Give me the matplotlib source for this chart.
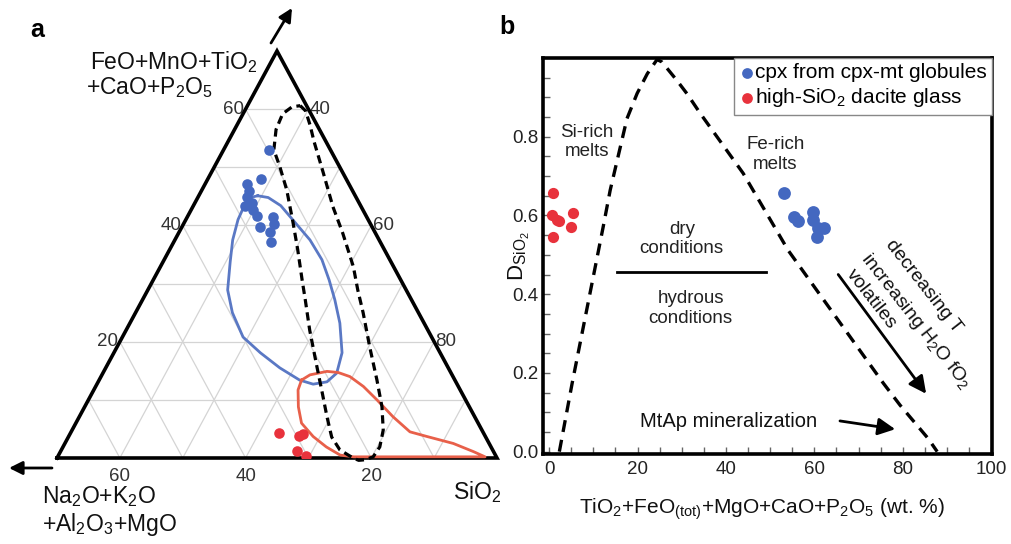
import matplotlib
matplotlib.use("Agg")
import matplotlib.pyplot as plt
import numpy as np

plt.rcParams["font.family"] = ["Liberation Sans", "DejaVu Sans"]
plt.rcParams["mathtext.fontset"] = "custom"
plt.rcParams["mathtext.rm"] = "Liberation Sans"
plt.rcParams["mathtext.it"] = "Liberation Sans:italic"
plt.rcParams["mathtext.bf"] = "Liberation Sans:bold"

BLUE = "#4468c0"; RED = "#e8323c"
BLUE_LINE = "#5a78c4"; RED_LINE = "#e8604a"

# ---- panel a: ternary (FeO group = top, alkali group = left, SiO2 = right), wt.% ----
# stored as top-apex % and SiO2 %; the alkali/Al/Mg group is the remainder
cpx_fe = [53.0, 47.9, 47.2, 46.0, 44.9, 43.4, 43.9, 42.7, 41.6, 39.8, 41.5, 40.3, 38.9, 37.2]
cpx_si = [37.2, 38.5, 36.6, 37.5, 37.8, 38.2, 39.1, 39.8, 41.0, 42.4, 43.6, 44.4, 44.4, 45.4]
gl_fe = [4.3, 3.8, 4.1, 1.2, 0.3]
gl_si = [63.2, 66.6, 67.1, 67.6, 69.5]

blue_fe = [45.1, 44.8, 43.4, 40.6, 37.5, 34.1, 30.6, 27.2, 23.2, 18.1, 14.6, 13.1, 12.7,
           13.4, 15.5, 18.1, 20.8, 25.0, 28.9, 33.7, 37.5, 41.0, 43.4, 44.8]
blue_si = [39.4, 41.2, 43.9, 47.5, 51.5, 55.1, 58.0, 60.6, 63.4, 66.3, 67.2, 66.4, 64.4,
           61.9, 57.7, 53.3, 49.2, 45.4, 42.7, 40.7, 39.2, 38.3, 38.1, 38.3]
red_fe = [13.4, 14.3, 14.9, 14.7, 14.0, 12.3, 10.0, 7.1, 4.5, 3.7, 2.5, 1.1, 0.2,
          0.2, 0.5, 1.9, 3.7, 6.0, 8.8, 11.7]
red_si = [62.2, 63.1, 65.5, 67.4, 69.6, 72.6, 75.9, 79.9, 83.9, 87.0, 91.8, 95.7, 98.0,
          77.1, 74.8, 71.9, 68.9, 65.9, 64.0, 62.5]
dash_fe = [60.6, 59.7, 57.3, 54.4, 49.1, 43.2, 38.7, 32.9, 28.9, 25.0, 19.1, 13.4, 8.8, 4.8,
           1.9, 0.2, -0.3, -0.4, 0.0, 1.4, 3.6, 7.1, 11.2, 15.7, 22.0, 27.2, 30.6, 35.8, 40.5,
           46.1, 50.1, 53.0, 56.5, 59.2, 60.4]
dash_si = [38.4, 39.7, 41.6, 43.7, 47.8, 52.3, 56.1, 60.7, 63.4, 66.2, 70.2, 74.2, 77.3, 79.5,
           80.4, 80.2, 79.2, 78.2, 77.1, 74.3, 71.9, 69.4, 66.6, 63.5, 59.2, 55.9, 53.7, 50.4, 47.3,
           43.5, 40.4, 38.0, 36.6, 36.3, 37.2]

# ---- panel b ----
curve_x = [2.3, 5.2, 12.2, 13.8, 17.6, 19.9, 22.2, 24.4, 25.5, 28.9, 31.2, 34.2, 43.9, 54.1,
           75.6, 79.4, 85.7, 87.8]
curve_y = [0.0, 0.174, 0.570, 0.664, 0.846, 0.910, 0.960, 0.996, 0.99, 0.943, 0.909, 0.859,
           0.707, 0.511, 0.174, 0.118, 0.034, 0.0]
red_x = [0.8, 0.6, 1.7, 2.3, 5.4, 5.0, 0.8]
red_y = [0.657, 0.600, 0.589, 0.586, 0.606, 0.571, 0.546]
blue_x = [53.2, 55.4, 56.2, 59.8, 59.6, 60.5, 62.2, 60.9]
blue_y = [0.657, 0.596, 0.585, 0.609, 0.588, 0.545, 0.567, 0.567]

W, H = 1011, 544
fig = plt.figure(figsize=(W / 100, H / 100), dpi=100)
def fx(p): return p / W
def fy(p): return 1 - p / H

def tern(fe, si):
    fe = np.asarray(fe, float); si = np.asarray(si, float)
    return si + fe / 2, fe

ax = fig.add_axes([fx(57), fy(458), 440 / W, 407 / H])
ax.set_xlim(30, 100); ax.set_ylim(0, 70); ax.axis("off")
g = dict(color="#d4d4d4", lw=0.9, zorder=1)
for v in range(10, 70, 10):
    ax.plot(*tern([v, v], [30, 100 - v]), **g)
    ax.plot(*tern([0, 70 - v], [100 - v, 30]), **g)
for c in range(40, 100, 10):
    ax.plot(*tern([0, 100 - c], [c, c]), **g)
ax.plot(*tern([0, 0, 70, 0], [30, 100, 30, 30]), color="k", lw=2.6, zorder=5,
        solid_joinstyle="miter", clip_on=False)

ax.plot(*tern(blue_fe + blue_fe[:1], blue_si + blue_si[:1]), color=BLUE_LINE, lw=2, zorder=3)
ax.plot(*tern(red_fe + red_fe[:1], red_si + red_si[:1]), color=RED_LINE, lw=2, zorder=5.5,
        clip_on=False)
ax.plot(*tern(dash_fe + dash_fe[:1], dash_si + dash_si[:1]), color="k", lw=2.3,
        dashes=(2.6, 1.6), zorder=5.6, clip_on=False)
ax.scatter(*tern(cpx_fe, cpx_si), s=58, color=BLUE, zorder=6, linewidths=0)
ax.scatter(*tern(gl_fe, gl_si), s=58, color=RED, zorder=6, linewidths=0)

tk = dict(fontsize=13.5, color="#333333", textcoords="offset points", annotation_clip=False)
for v in (20, 40, 60):
    ax.annotate(str(v), tern(v, 30), xytext=(-1, 0), ha="right", va="center", **tk)
for c in (40, 60, 80):
    ax.annotate(str(c), tern(100 - c, c), xytext=(1, 0), ha="left", va="center", **tk)
for b in (60, 40, 20):
    ax.annotate(str(b), tern(0, 100 - b), xytext=(0, -13), ha="center", va="center", **tk)

lab = dict(fontsize=16.5, color="#111111")
fig.text(fx(258), fy(62), "FeO+MnO+TiO$_2$", ha="right", va="center", **lab)
fig.text(fx(86), fy(88), "+CaO+P$_2$O$_5$", ha="left", va="center", **lab)
fig.text(fx(42), fy(497), "Na$_2$O+K$_2$O", ha="left", va="center", **lab)
fig.text(fx(42), fy(525), "+Al$_2$O$_3$+MgO", ha="left", va="center", **lab)
fig.text(fx(477), fy(492), "SiO$_2$", ha="center", va="center", **lab)
fig.text(fx(37), fy(30), "a", ha="center", va="center", fontsize=18, fontweight="bold")
fig.text(fx(507), fy(27), "b", ha="center", va="center", fontsize=18, fontweight="bold")
arr = dict(arrowstyle="-|>", lw=2, color="k", mutation_scale=20, shrinkA=0, shrinkB=0)
ax.annotate("", xy=(292, H - 8), xytext=(271, H - 43), xycoords="figure pixels",
            arrowprops=arr, annotation_clip=False)
ax.annotate("", xy=(9, H - 468), xytext=(52, H - 468), xycoords="figure pixels",
            arrowprops=arr, annotation_clip=False)

# ---- panel b axes ----
bx = fig.add_axes([fx(543), fy(454), 449 / W, 396 / H])
bx.set_xlim(-1.4, 100.2); bx.set_ylim(-0.006, 1.0)
for s in bx.spines.values():
    s.set_linewidth(2.6)
bx.set_xticks(range(0, 101, 20)); bx.set_xticks(range(0, 101, 5), minor=True)
bx.set_yticks([0, 0.2, 0.4, 0.6, 0.8]); bx.set_yticks(np.arange(0, 1.0, 0.05), minor=True)
bx.set_yticklabels(["0.0", "0.2", "0.4", "0.6", "0.8"])
bx.tick_params(which="both", direction="in", length=5, width=1, color="#666666",
               labelsize=13.5, labelcolor="#222222")
bx.tick_params(axis="x", pad=5); bx.tick_params(axis="y", pad=3)

bx.plot(curve_x, curve_y, color="k", lw=2.4, dashes=(3.6, 2.4), clip_on=False)
bx.scatter(blue_x, blue_y, s=85, color=BLUE, linewidths=0, zorder=5, label="cpx from cpx-mt globules")
bx.scatter(red_x, red_y, s=65, color=RED, linewidths=0, zorder=5, label="high-SiO$_2$ dacite glass")
leg = bx.legend(loc="upper right", bbox_to_anchor=(1, 1), borderaxespad=0, fancybox=False,
                edgecolor="#888888", framealpha=1, fontsize=15, handletextpad=0.05,
                handlelength=0.7, borderpad=0.25, labelspacing=0.2, scatterpoints=1)
leg.get_frame().set_linewidth(1)
for hnd in leg.legend_handles:
    hnd.set_sizes([60])

t = dict(fontsize=13.5, color="#222222", ha="center", va="center")
bx.text(8.5, 0.787, "Si-rich\nmelts", **t)
bx.text(51.2, 0.755, "Fe-rich\nmelts", **t)
bx.text(30, 0.54, "dry\nconditions", **t)
bx.text(32, 0.363, "hydrous\nconditions", **t)
bx.plot([15.3, 49], [0.457, 0.457], color="k", lw=2)
bx.text(20.6, 0.0756, "MtAp mineralization", fontsize=14.5, color="#111111", ha="left", va="center")
bx.annotate("", xy=(78.3, 0.057), xytext=(65.8, 0.078),
            arrowprops=dict(arrowstyle="-|>", lw=2, color="k", mutation_scale=26, shrinkA=0, shrinkB=0))
bx.annotate("", xy=(85.3, 0.147), xytext=(65.4, 0.45),
            arrowprops=dict(arrowstyle="-|>", lw=2, color="k", mutation_scale=26, shrinkA=0, shrinkB=0))
r = dict(fontsize=14, color="#111111", ha="center", va="center", rotation=-52,
         rotation_mode="anchor")
bx.text(84.6, 0.42, "decreasing T", **r)
bx.text(83.0, 0.33, "increasing H$_2$O fO$_2$", **r)
bx.text(72.9, 0.387, "volatiles", **r)

bx.set_xlabel("TiO$_2$+FeO$_{\\mathrm{(tot)}}$+MgO+CaO+P$_2$O$_5$ (wt. %)", fontsize=15, color="#111111")
bx.xaxis.set_label_coords(0.488, -0.108)
bx.set_ylabel("D$_{\\mathrm{SiO_2}}$", fontsize=16, color="#111111")
bx.yaxis.set_label_coords(-0.024, 0.5)

fig.savefig("out.png", dpi=100)
